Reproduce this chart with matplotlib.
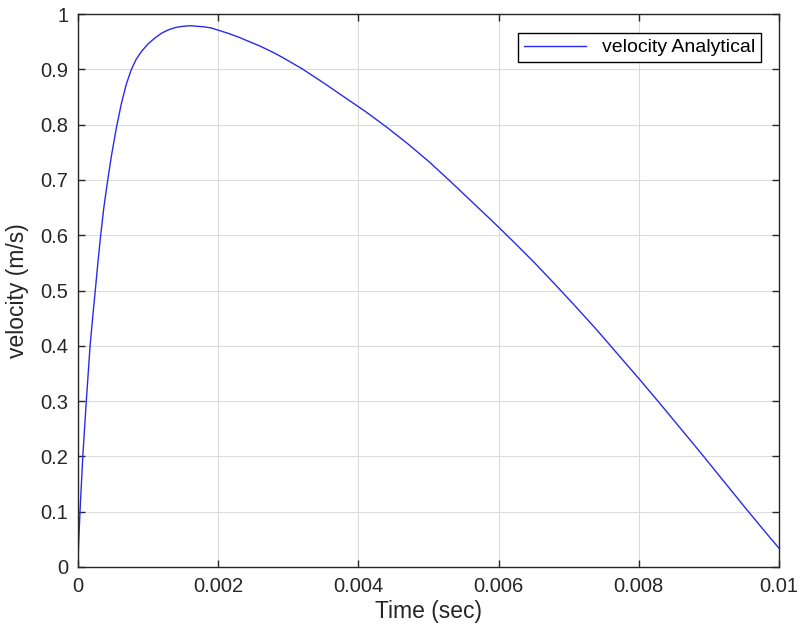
import numpy as np
import matplotlib.pyplot as plt

# velocity samples
t_sec = [0.0, 0.00001, 0.00003, 0.00005, 0.00007, 0.000095, 0.00012, 0.000147,
         0.000174, 0.00021, 0.000248, 0.000285, 0.000325, 0.00037, 0.00042,
         0.00048, 0.00055, 0.00062, 0.00069, 0.00076, 0.00083, 0.00091,
         0.00100, 0.00110, 0.00120, 0.00130, 0.00140, 0.00150, 0.00160,
         0.00170, 0.00180, 0.00190, 0.00200, 0.00215, 0.00230, 0.00245,
         0.00260, 0.00275, 0.00290, 0.00305, 0.00320, 0.0035, 0.0038, 0.0041,
         0.0044, 0.0047, 0.0050, 0.0053, 0.0056, 0.0059, 0.0062, 0.0065,
         0.0068, 0.0071, 0.0074, 0.0077, 0.0080, 0.0083, 0.0086, 0.0089,
         0.0092, 0.0095, 0.0098, 0.0100]
vel = [0.0, 0.04, 0.10, 0.15, 0.20, 0.25, 0.30, 0.35,
       0.40, 0.45, 0.50, 0.55, 0.60, 0.65, 0.695,
       0.745, 0.795, 0.838, 0.873, 0.899, 0.918, 0.933,
       0.946, 0.957, 0.966, 0.972, 0.976, 0.978, 0.979,
       0.978, 0.977, 0.975, 0.971, 0.965, 0.958, 0.950,
       0.942, 0.933, 0.923, 0.912, 0.901, 0.876, 0.850, 0.824,
       0.796, 0.766, 0.734, 0.699, 0.663, 0.627, 0.590, 0.552,
       0.512, 0.471, 0.429, 0.385, 0.341, 0.296, 0.250, 0.204,
       0.157, 0.110, 0.064, 0.034]

x_ticks = [0, 0.002, 0.004, 0.006, 0.008, 0.01]
x_ticklabels = ['0', '0.002', '0.004', '0.006', '0.008', '0.01']
y_ticks = [0, 0.1, 0.2, 0.3, 0.4, 0.5, 0.6, 0.7, 0.8, 0.9, 1]
y_ticklabels = ['0', '0.1', '0.2', '0.3', '0.4', '0.5', '0.6', '0.7', '0.8', '0.9', '1']

plt.rcParams['font.family'] = ['Liberation Sans', 'DejaVu Sans']
axcol = '#262626'

fig = plt.figure(figsize=(8.03, 6.42), dpi=100)
ax = fig.add_axes([0.097, 0.117, 0.873, 0.861])

ax.plot(t_sec, vel, color='#2a2aee', lw=1.0, label='velocity Analytical')

ax.set_xlim(0, 0.01)
ax.set_ylim(0, 1)
ax.set_xticks(x_ticks)
ax.set_xticklabels(x_ticklabels)
ax.set_yticks(y_ticks)
ax.set_yticklabels(y_ticklabels)
ax.tick_params(direction='in', top=True, right=True, length=5, width=1,
               colors=axcol, labelsize=14.5, pad=7)
for s in ax.spines.values():
    s.set_color(axcol)
    s.set_linewidth(1)

ax.grid(True, color='#dcdcdc', lw=0.8)
ax.set_axisbelow(True)

ax.set_xlabel('Time (sec)', fontsize=16.5, color=axcol, labelpad=3)
ax.set_ylabel('velocity (m/s)', fontsize=16.5, color=axcol, labelpad=8)

leg = ax.legend(loc='upper right', fontsize=14, fancybox=False, framealpha=1,
                edgecolor='black', borderpad=0.3, handlelength=3.2,
                borderaxespad=0, bbox_to_anchor=(0.974, 0.966))
leg.get_frame().set_linewidth(1)

plt.savefig('out.png', dpi=100)
